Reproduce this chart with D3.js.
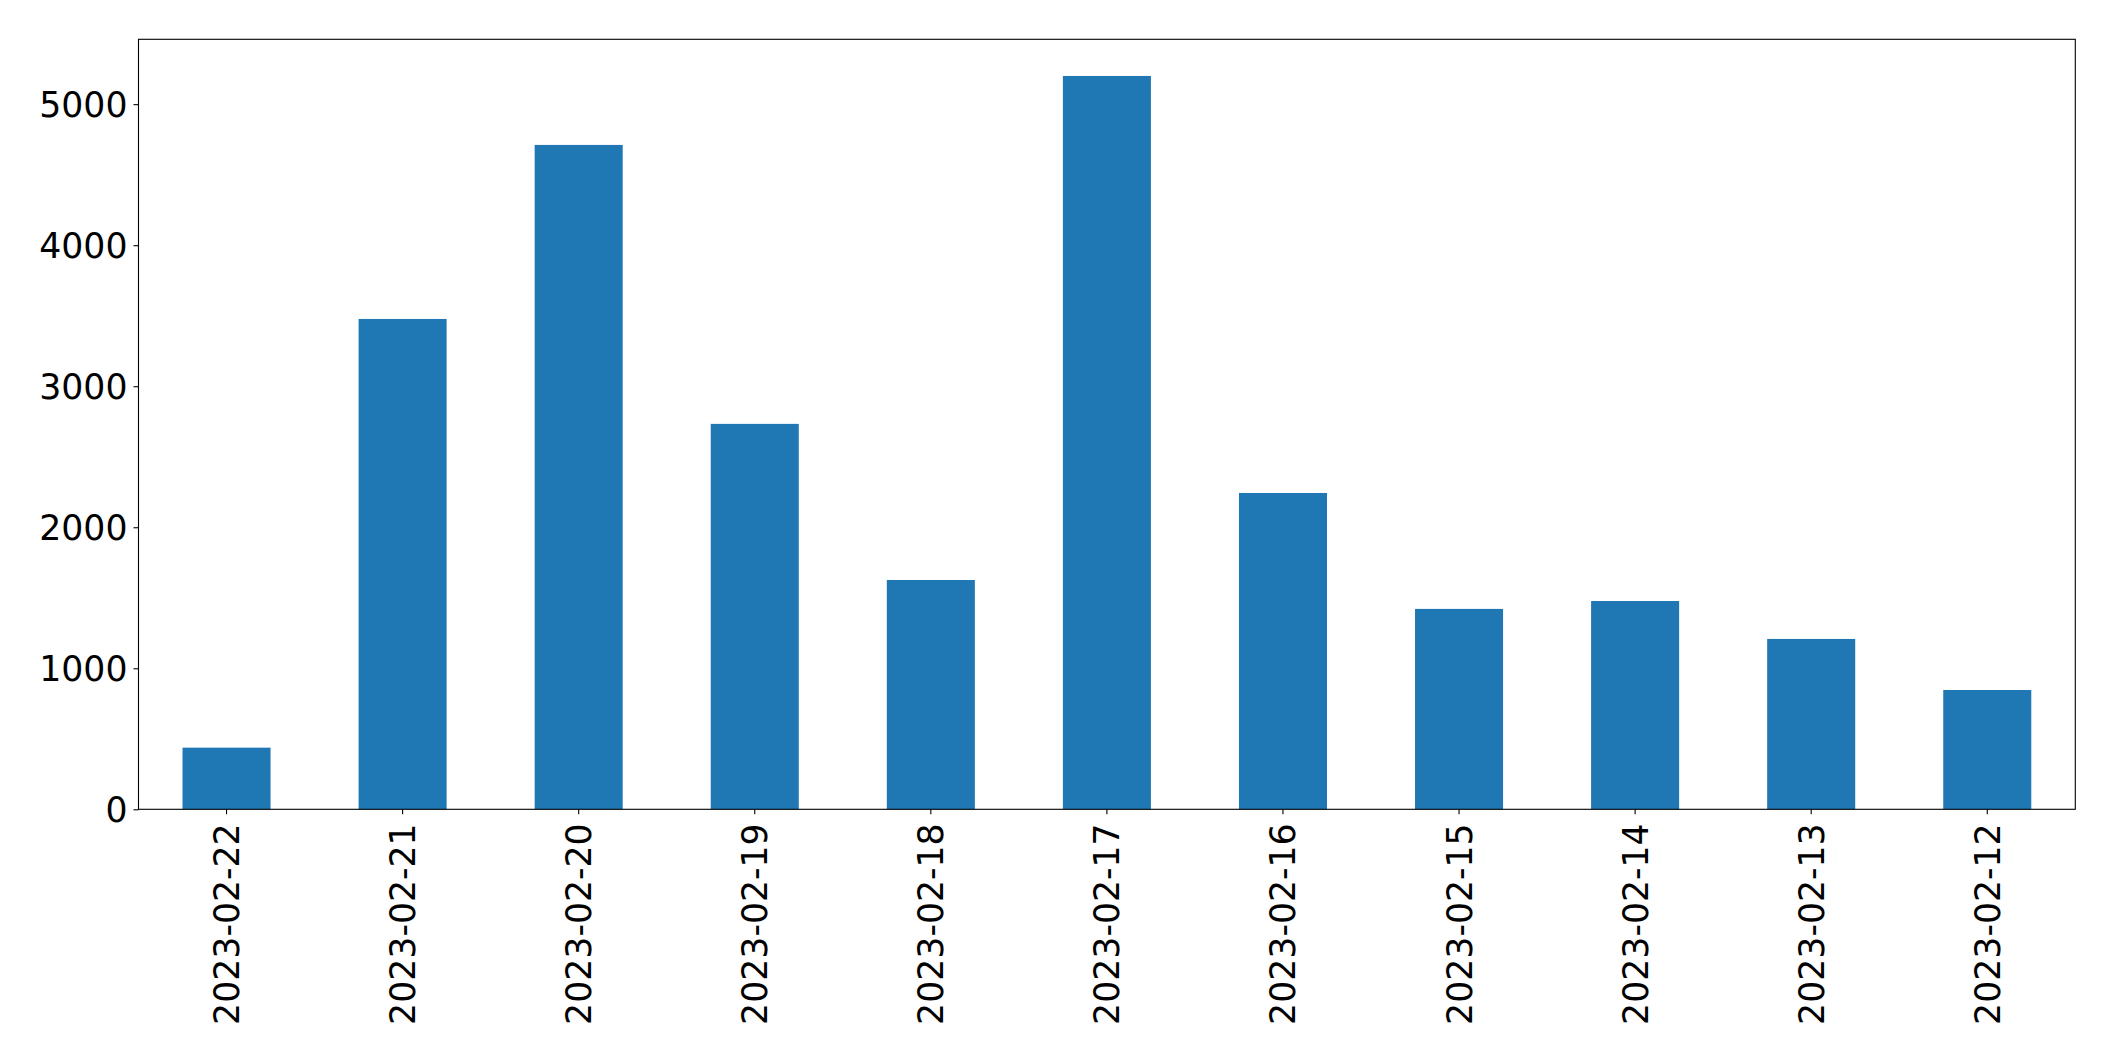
<!DOCTYPE html>
<html>
<head>
<meta charset="utf-8">
<script src="https://cdn.jsdelivr.net/npm/d3@7"></script>
<style>
  html, body { margin: 0; padding: 0; background: #fff; }
  svg { display: block; }
  text { font-family: "DejaVu Sans", sans-serif; }
</style>
</head>
<body>
<svg id="chart" width="2115" height="1061"></svg>
<script>
const categories = ["2023-02-22","2023-02-21","2023-02-20","2023-02-19","2023-02-18","2023-02-17","2023-02-16","2023-02-15","2023-02-14","2023-02-13","2023-02-12"];
const values = [437, 3477, 4711, 2733, 1626, 5200, 2243, 1421, 1477, 1208, 846];
const yTicks = [0, 1000, 2000, 3000, 4000, 5000];

const W = 2115, H = 1061;
const m = { left: 138.5, right: 2075.3, top: 39.3, bottom: 809.3 };
const fontPx = 34.7;

const svg = d3.select("#chart");

const x = d3.scaleBand()
  .domain(categories)
  .range([m.left, m.right])
  .paddingInner(0.5)
  .paddingOuter(0.25);

const y = d3.scaleLinear()
  .domain([0, d3.max(values) * 1.05])
  .range([m.bottom, m.top]);

// bars
svg.append("g").selectAll("rect")
  .data(values)
  .join("rect")
  .attr("x", (d, i) => x(categories[i]))
  .attr("y", d => y(d))
  .attr("width", x.bandwidth())
  .attr("height", d => y(0) - y(d))
  .attr("fill", "#1f77b4");

// y axis
const yAxis = svg.append("g")
  .attr("transform", `translate(${m.left},0)`)
  .call(d3.axisLeft(y).tickValues(yTicks).tickSize(5).tickPadding(6).tickFormat(d3.format("d")));
yAxis.select(".domain").remove();
yAxis.selectAll("line").attr("stroke", "#000").attr("stroke-width", 1.1);
yAxis.selectAll("text")
  .attr("font-size", fontPx)
  .attr("font-family", "DejaVu Sans")
  .attr("fill", "#000")
  .attr("dy", "0.36em");

// x axis
const xAxis = svg.append("g")
  .attr("transform", `translate(0,${m.bottom})`)
  .call(d3.axisBottom(x).tickSize(5).tickPadding(0));
xAxis.select(".domain").remove();
xAxis.selectAll("line").attr("stroke", "#000").attr("stroke-width", 1.1);
xAxis.selectAll("text")
  .attr("font-size", fontPx)
  .attr("font-family", "DejaVu Sans")
  .attr("fill", "#000")
  .attr("text-anchor", "end")
  .attr("y", 0)
  .attr("dy", "0.36em")
  .attr("transform", "translate(0,14) rotate(-90)");

// frame
svg.append("rect")
  .attr("x", m.left)
  .attr("y", m.top)
  .attr("width", m.right - m.left)
  .attr("height", m.bottom - m.top)
  .attr("fill", "none")
  .attr("stroke", "#000")
  .attr("stroke-width", 1.1);
</script>
</body>
</html>
